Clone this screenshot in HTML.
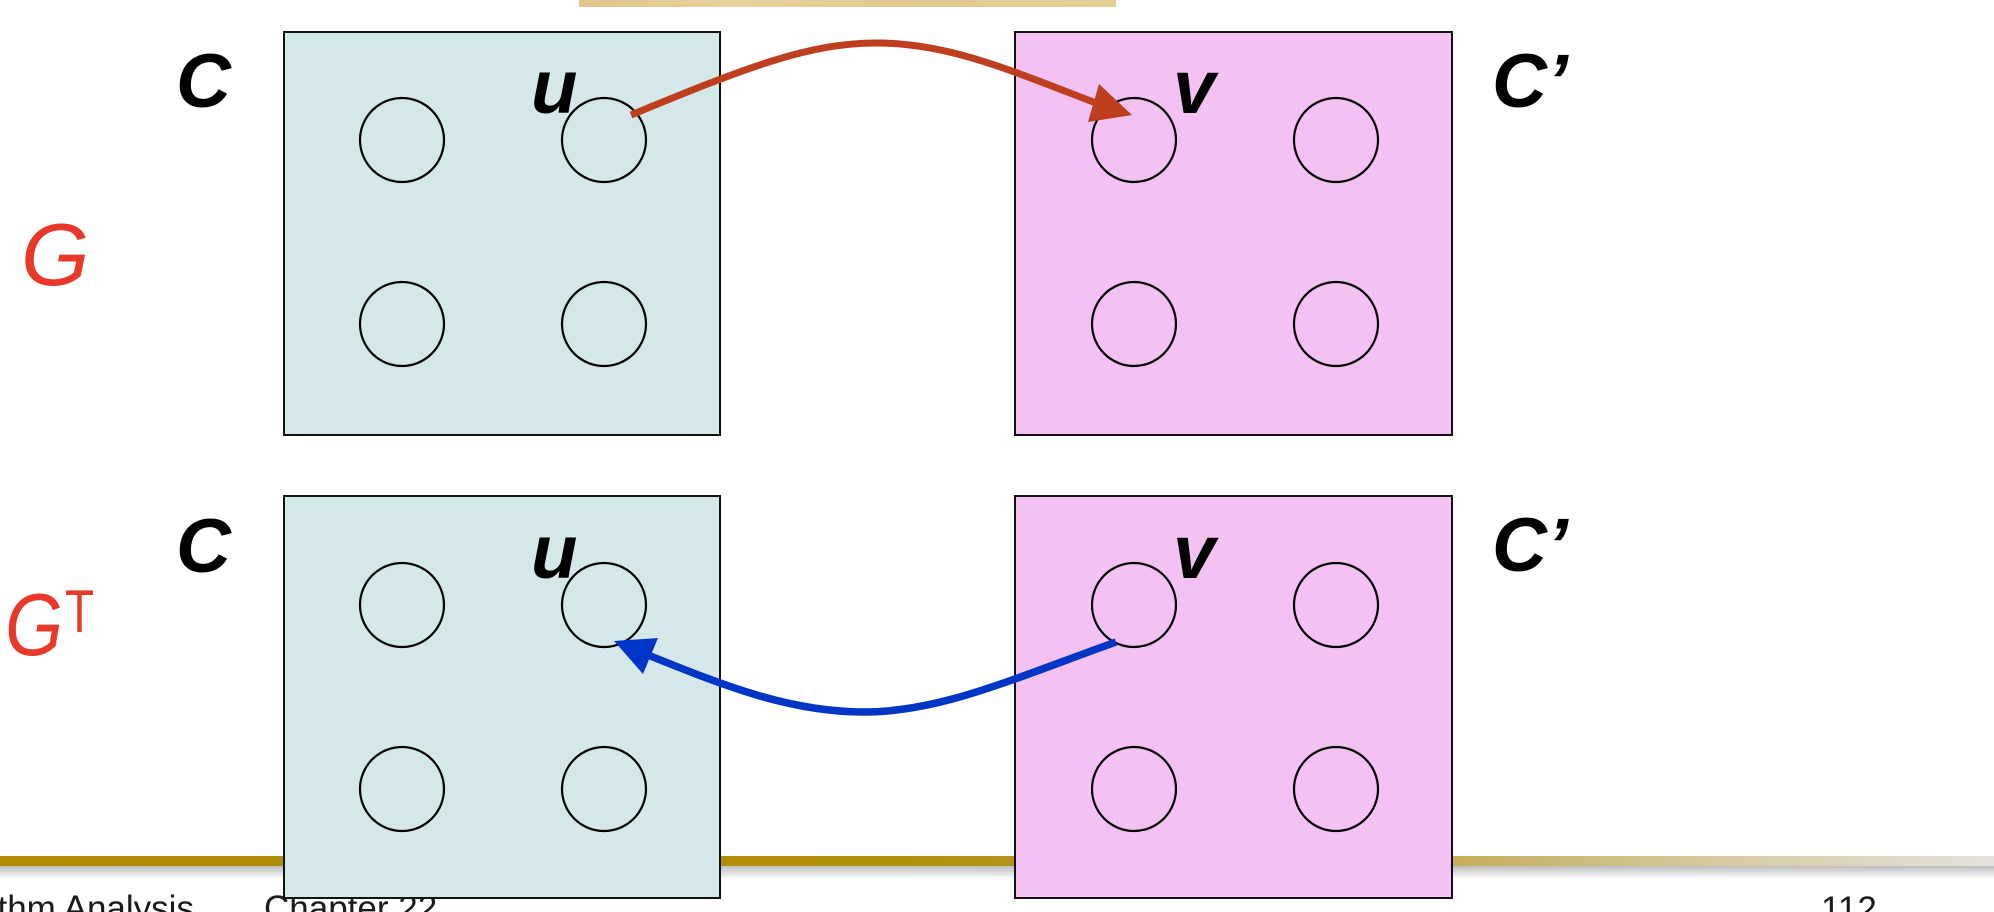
<!DOCTYPE html>
<html>
<head>
<meta charset="utf-8">
<style>
  html, body { margin: 0; padding: 0; background: #ffffff; }
  body { width: 1994px; height: 912px; overflow: hidden; position: relative; }
  svg { position: absolute; left: 0; top: 0; display: block; }
</style>
</head>
<body>
<svg width="1994" height="912" viewBox="0 0 1994 912" xmlns="http://www.w3.org/2000/svg">
  <defs>
    <linearGradient id="gold" x1="0" y1="0" x2="1994" y2="0" gradientUnits="userSpaceOnUse">
      <stop offset="0" stop-color="#ae8c02"/>
      <stop offset="0.45" stop-color="#b08f08"/>
      <stop offset="0.6" stop-color="#b99d2e"/>
      <stop offset="0.73" stop-color="#c4ad5a"/>
      <stop offset="0.86" stop-color="#d6caa0"/>
      <stop offset="1" stop-color="#e4e1dd"/>
    </linearGradient>
    <linearGradient id="shadow" x1="0" y1="866" x2="0" y2="879" gradientUnits="userSpaceOnUse">
      <stop offset="0" stop-color="#bdbdbd"/>
      <stop offset="1" stop-color="#ffffff"/>
    </linearGradient>
    <linearGradient id="tan" x1="579" y1="0" x2="1116" y2="0" gradientUnits="userSpaceOnUse">
      <stop offset="0" stop-color="#e0c48c"/>
      <stop offset="0.3" stop-color="#e8d19c"/>
      <stop offset="0.6" stop-color="#e2c890"/>
      <stop offset="1" stop-color="#e6ce98"/>
    </linearGradient>
  </defs>

  <!-- top tan bar -->
  <rect x="579" y="0" width="537" height="7" fill="url(#tan)"/>

  <!-- footer line + shadow -->
  <rect x="0" y="866" width="1994" height="13" fill="url(#shadow)"/>
  <rect x="0" y="856" width="1994" height="10" fill="url(#gold)"/>

  <!-- footer text -->
  <g font-family="'Liberation Sans', Arial, sans-serif" font-size="35" fill="#1a1a1a">
    <text x="-92" y="920">Algorithm Analysis</text>
    <text x="264" y="920">Chapter 22</text>
    <text x="1821" y="921">112</text>
  </g>

  <!-- boxes -->
  <g stroke="#111" stroke-width="2">
    <rect x="284" y="32" width="436" height="403" fill="#d4e8e9"/>
    <rect x="1015" y="32" width="437" height="403" fill="#f3c2f3"/>
    <rect x="284" y="496" width="436" height="402" fill="#d4e8e9"/>
    <rect x="1015" y="496" width="437" height="402" fill="#f3c2f3"/>
  </g>

  <!-- circles -->
  <g fill="none" stroke="#000" stroke-width="2.2">
    <circle cx="402" cy="140" r="42"/>
    <circle cx="604" cy="140" r="42"/>
    <circle cx="402" cy="324" r="42"/>
    <circle cx="604" cy="324" r="42"/>
    <circle cx="1134" cy="140" r="42"/>
    <circle cx="1336" cy="140" r="42"/>
    <circle cx="1134" cy="324" r="42"/>
    <circle cx="1336" cy="324" r="42"/>

    <circle cx="402" cy="605" r="42"/>
    <circle cx="604" cy="605" r="42"/>
    <circle cx="402" cy="789" r="42"/>
    <circle cx="604" cy="789" r="42"/>
    <circle cx="1134" cy="605" r="42"/>
    <circle cx="1336" cy="605" r="42"/>
    <circle cx="1134" cy="789" r="42"/>
    <circle cx="1336" cy="789" r="42"/>
  </g>

  <!-- labels -->
  <g font-family="'Liberation Sans', Arial, sans-serif" font-weight="bold" font-style="italic" font-size="76" fill="#000">
    <text x="176" y="107">C</text>
    <text x="531" y="113">u</text>
    <text x="1173" y="113">v</text>
    <text x="1492" y="107">C’</text>

    <text x="176" y="572">C</text>
    <text x="531" y="578">u</text>
    <text x="1173" y="578">v</text>
    <text x="1492" y="571">C’</text>
  </g>

  <!-- G labels -->
  <g font-family="'Liberation Sans', Arial, sans-serif" font-style="italic" font-size="88" fill="#e8382a">
    <text x="21" y="285">G</text>
    <text x="5" y="655" font-size="88" textLength="58" lengthAdjust="spacingAndGlyphs">G</text>
  </g>
  <text x="65" y="632" font-family="'Liberation Sans', Arial, sans-serif" font-size="60" fill="#e8382a" textLength="29" lengthAdjust="spacingAndGlyphs">T</text>

  <!-- red arrow -->
  <path d="M631 115 C 745 68, 810 42, 880 43 S 1010 70, 1096 103" fill="none" stroke="#bd3f20" stroke-width="7"/>
  <polygon points="1132,115 1099,84 1088,122" fill="#bd3f20"/>

  <!-- blue arrow -->
  <path d="M1116 642 C 1010 680, 940 712, 864 712 S 720 684, 648 655" fill="none" stroke="#0035c6" stroke-width="7.5"/>
  <polygon points="614,641 658,638 643,674" fill="#0035c6"/>
</svg>
</body>
</html>
